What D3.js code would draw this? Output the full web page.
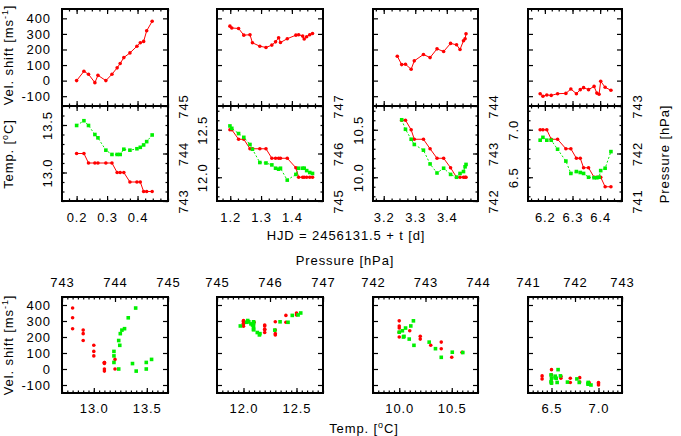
<!DOCTYPE html>
<html>
<head>
<meta charset="utf-8">
<script src="https://cdn.jsdelivr.net/npm/d3@7"></script>
<style>
  body { margin: 0; background: #fff; }
  svg { display: block; font-family: "Liberation Sans", Arial, sans-serif; font-size: 13px; }
  svg text { letter-spacing: 0.9px; }
</style>
</head>
<body>
<svg id="chart" width="681" height="436"></svg>
<script>
// --- data, one set of arrays per night (t = HJD - 2456131.5) ---
const t1 = [0.200, 0.224, 0.239, 0.260, 0.270, 0.296, 0.316, 0.333, 0.343, 0.355, 0.375, 0.398, 0.409, 0.420, 0.430, 0.448];
const vel1 = [0, 60, 41, -13, 34, 0, 41, 82, 110, 148, 178, 221, 243, 252, 320, 381];
const temp1 = [13.2, 13.2, 13.1, 13.1, 13.1, 13.1, 13.1, 13.0, 13.0, 13.0, 12.9, 12.9, 12.9, 12.8, 12.8, 12.8];
const pres1 = [744.59, 744.69, 744.59, 744.40, 744.33, 744.07, 743.98, 743.98, 743.98, 744.09, 744.07, 744.10, 744.13, 744.18, 744.25, 744.39];

const t2 = [1.199, 1.205, 1.227, 1.244, 1.264, 1.272, 1.296, 1.316, 1.335, 1.347, 1.357, 1.363, 1.385, 1.413, 1.422, 1.435, 1.440, 1.448, 1.458, 1.467];
const vel2 = [350, 338, 335, 292, 295, 243, 221, 213, 228, 249, 275, 245, 269, 292, 295, 286, 267, 282, 295, 303];
const temp2 = [12.5, 12.5, 12.4, 12.4, 12.3, 12.3, 12.3, 12.3, 12.2, 12.2, 12.2, 12.2, 12.2, 12.1, 12.0, 12.0, 12.0, 12.0, 12.0, 12.0];
const pres2 = [746.58, 746.53, 746.42, 746.34, 746.19, 746.09, 745.81, 745.80, 745.76, 745.69, 745.67, 745.69, 745.44, 745.56, 745.69, 745.69, 745.69, 745.64, 745.60, 745.58];

const t3 = [3.243, 3.257, 3.269, 3.287, 3.297, 3.326, 3.347, 3.369, 3.390, 3.412, 3.431, 3.442, 3.453, 3.458, 3.461];
const vel3 = [157, 103, 105, 73, 127, 168, 148, 204, 187, 239, 230, 200, 256, 269, 301];
const temp3 = [null, 10.6, 10.6, 10.5, 10.4, 10.4, 10.3, 10.2, 10.2, 10.1, 10.0, 10.0, 10.0, 10.0, 10.0];
const pres3 = [null, 743.71, 743.51, 743.30, 743.19, 743.07, 742.78, 742.59, 742.69, 742.56, 742.50, 742.58, 742.62, 742.72, 742.77];

const t4 = [6.183, 6.193, 6.207, 6.223, 6.246, 6.276, 6.294, 6.314, 6.328, 6.340, 6.358, 6.378, 6.388, 6.396, 6.402, 6.418, 6.439];
const vel4 = [-84, -100, -92, -95, -84, -82, -54, -84, -58, -45, -58, -37, -80, -88, -4, -43, -62];
const temp4 = [7.0, 7.0, 7.0, 6.9, 6.9, 6.8, 6.8, 6.7, 6.7, 6.6, 6.6, 6.5, 6.5, 6.5, 6.5, 6.4, 6.4];
const pres4 = [742.28, 742.34, 742.28, 742.28, 742.09, 741.84, 741.58, 741.62, 741.60, 741.58, 741.50, 741.49, 741.49, 741.50, 741.64, 741.69, 742.04];

// axis ranges and tick labels
const tDomains = [[0.152, 0.500], [1.157, 1.501], [3.166, 3.499], [6.139, 6.479]];
const tempDomains = [[12.7, 13.7], [11.75, 12.75], [9.75, 10.75], [6.25, 7.25]];
const presDomains = [[743, 745], [745, 747], [742, 744], [741, 743]];
const velDomainTop = [-163, 460];
const velDomainBottom = [-150, 450];

const tTicks = [[0.2, 0.3, 0.4], [1.2, 1.3, 1.4], [3.2, 3.3, 3.4], [6.2, 6.3, 6.4]];
const tempTicks = [[13.0, 13.5], [12.0, 12.5], [10.0, 10.5], [6.5, 7.0]];
const presTicks = [[743, 744, 745], [745, 746, 747], [742, 743, 744], [741, 742, 743]];
const velTicks = [-100, 0, 100, 200, 300, 400];

// --- layout ---
const FONT = '"Liberation Sans", Arial, sans-serif';
const RED = '#ff0000', GREEN = '#00f000';
const colX = [[62, 168], [217, 323], [373, 478], [528, 622]];
const rowTop = { top: 9, mid: 106, bottom: 201 };
const rowBot = { top: 297, bottom: 393 };

const cols = [
  { t: t1, vel: vel1, temp: temp1, pres: pres1 },
  { t: t2, vel: vel2, temp: temp2, pres: pres2 },
  { t: t3, vel: vel3, temp: temp3, pres: pres3 },
  { t: t4, vel: vel4, temp: temp4, pres: pres4 },
];

const svg = d3.select('#chart');

function steps(dom, step) {
  const a = Math.ceil(dom[0] / step - 1e-6), b = Math.floor(dom[1] / step + 1e-6);
  return d3.range(a, b + 1).map(k => +(k * step).toFixed(6));
}

function axisAt(x, y, axis, values, size, fmt, pad) {
  const g = svg.append('g').attr('transform', `translate(${x},${y})`);
  g.call(axis.tickValues(values).tickSizeInner(-size).tickSizeOuter(0)
    .tickPadding(pad || 0).tickFormat(fmt || (() => '')));
  g.attr('font-size', 13).attr('font-family', FONT);
  g.select('.domain').remove();
  g.selectAll('.tick line').attr('stroke', '#000').attr('stroke-width', 1.2);
  g.selectAll('.tick text').attr('fill', '#000');
  return g;
}

function rotateLabels(g, dx) {
  g.selectAll('.tick text')
    .attr('x', 0).attr('y', 0).attr('dy', '0.35em')
    .attr('text-anchor', 'middle')
    .attr('transform', `translate(${dx},0) rotate(-90)`);
}

const num = d => String(d);
const one = d => d.toFixed(1);
const MAJ = 5, MIN = 2.5;

cols.forEach((c, i) => {
  const [x0, x1] = colX[i];
  const x = d3.scaleLinear().domain(tDomains[i]).range([x0, x1]);
  const yV = d3.scaleLinear().domain(velDomainTop).range([rowTop.mid, rowTop.top]);
  const yT = d3.scaleLinear().domain(tempDomains[i]).range([rowTop.bottom, rowTop.mid]);
  const yP = d3.scaleLinear().domain(presDomains[i]).range([rowTop.bottom, rowTop.mid]);
  const bxT = d3.scaleLinear().domain(tempDomains[i]).range([x0, x1]);
  const bxP = d3.scaleLinear().domain(presDomains[i]).range([x0, x1]);
  const byV = d3.scaleLinear().domain(velDomainBottom).range([rowBot.bottom, rowBot.top]);

  const tMinor = steps(tDomains[i], 0.025);

  // ---- top row, upper panel (velocity) ----
  axisAt(x0, 0, d3.axisLeft(yV), velTicks, MAJ, i === 0 ? num : null, 11);
  axisAt(x1, 0, d3.axisRight(yV), velTicks, MAJ);
  [[rowTop.top, d3.axisTop], [rowTop.mid, d3.axisBottom], [rowTop.mid, d3.axisTop]].forEach(([yy, ax]) => {
    axisAt(0, yy, ax(x), tMinor, MIN);
    axisAt(0, yy, ax(x), tTicks[i], MAJ);
  });

  // ---- top row, lower panel (temperature / pressure) ----
  axisAt(0, rowTop.bottom, d3.axisBottom(x), tMinor, MIN);
  axisAt(0, rowTop.bottom, d3.axisBottom(x), tTicks[i], MAJ, one, 12);
  axisAt(x0, 0, d3.axisLeft(yT), steps(tempDomains[i], 0.1), MIN);
  rotateLabels(axisAt(x0, 0, d3.axisLeft(yT), tempTicks[i], MAJ, one), -15);
  axisAt(x1, 0, d3.axisRight(yP), steps(presDomains[i], 0.2), MIN);
  rotateLabels(axisAt(x1, 0, d3.axisRight(yP), presTicks[i], MAJ, num), 15);

  // ---- bottom row (velocity vs temperature / pressure) ----
  axisAt(x0, 0, d3.axisLeft(byV), velTicks, MAJ, i === 0 ? num : null, 11);
  axisAt(x1, 0, d3.axisRight(byV), velTicks, MAJ);
  axisAt(0, rowBot.bottom, d3.axisBottom(bxT), steps(tempDomains[i], 0.05), MIN);
  axisAt(0, rowBot.bottom, d3.axisBottom(bxT), tempTicks[i], MAJ, one, 11);
  axisAt(0, rowBot.top, d3.axisTop(bxP), steps(presDomains[i], 0.1), MIN);
  axisAt(0, rowBot.top, d3.axisTop(bxP), presTicks[i], MAJ, num, 10);

  // borders
  svg.append('rect').attr('x', x0).attr('y', rowTop.top).attr('width', x1 - x0).attr('height', rowTop.bottom - rowTop.top)
    .attr('fill', 'none').attr('stroke', '#000').attr('stroke-width', 2);
  svg.append('line').attr('x1', x0).attr('x2', x1).attr('y1', rowTop.mid).attr('y2', rowTop.mid)
    .attr('stroke', '#000').attr('stroke-width', 2);
  svg.append('rect').attr('x', x0).attr('y', rowBot.top).attr('width', x1 - x0).attr('height', rowBot.bottom - rowBot.top)
    .attr('fill', 'none').attr('stroke', '#000').attr('stroke-width', 2);

  const rows = c.t.map((t, k) => ({ t, vel: c.vel[k], temp: c.temp[k], pres: c.pres[k] }));
  const withLower = rows.filter(d => d.temp != null);

  // velocity curve
  svg.append('path').datum(rows)
    .attr('d', d3.line().x(d => x(d.t)).y(d => yV(d.vel)))
    .attr('fill', 'none').attr('stroke', RED).attr('stroke-width', 1);
  svg.append('g').selectAll('circle').data(rows).join('circle')
    .attr('cx', d => x(d.t)).attr('cy', d => yV(d.vel)).attr('r', 1.8).attr('fill', RED);

  // temperature curve
  svg.append('path').datum(withLower)
    .attr('d', d3.line().x(d => x(d.t)).y(d => yT(d.temp)))
    .attr('fill', 'none').attr('stroke', RED).attr('stroke-width', 1);
  svg.append('g').selectAll('circle').data(withLower).join('circle')
    .attr('cx', d => x(d.t)).attr('cy', d => yT(d.temp)).attr('r', 1.8).attr('fill', RED);

  // pressure curve
  svg.append('path').datum(withLower)
    .attr('d', d3.line().x(d => x(d.t)).y(d => yP(d.pres)))
    .attr('fill', 'none').attr('stroke', GREEN).attr('stroke-width', 1).attr('stroke-dasharray', '2,2');
  svg.append('g').selectAll('rect').data(withLower).join('rect')
    .attr('x', d => x(d.t) - 1.8).attr('y', d => yP(d.pres) - 1.8)
    .attr('width', 3.6).attr('height', 3.6).attr('fill', GREEN);

  // bottom scatter
  svg.append('g').selectAll('circle').data(withLower).join('circle')
    .attr('cx', d => bxT(d.temp)).attr('cy', d => byV(d.vel)).attr('r', 1.8).attr('fill', RED);
  svg.append('g').selectAll('rect').data(withLower).join('rect')
    .attr('x', d => bxP(d.pres) - 1.8).attr('y', d => byV(d.vel) - 1.8)
    .attr('width', 3.6).attr('height', 3.6).attr('fill', GREEN);
});

// ---- titles ----
function velTitle(cy) {
  const t = svg.append('text').attr('transform', `translate(12.5,${cy}) rotate(-90)`).attr('text-anchor', 'middle');
  t.append('tspan').text('Vel. shift [ms');
  t.append('tspan').attr('baseline-shift', 'super').attr('font-size', 9).text('-1');
  t.append('tspan').text(']');
}
function tempTitle(g) {
  g.append('tspan').text('Temp. [');
  g.append('tspan').attr('baseline-shift', 'super').attr('font-size', 9).text('o');
  g.append('tspan').text('C]');
}
velTitle(55);
velTitle(345);
tempTitle(svg.append('text').attr('transform', 'translate(12.5,154) rotate(-90)').attr('text-anchor', 'middle'));
svg.append('text').attr('transform', 'translate(669,154) rotate(-90)').attr('text-anchor', 'middle').text('Pressure [hPa]');
svg.append('text').attr('x', 346).attr('y', 240).attr('text-anchor', 'middle').text('HJD = 2456131.5 + t [d]');
svg.append('text').attr('x', 345).attr('y', 264.5).attr('text-anchor', 'middle').text('Pressure [hPa]');
tempTitle(svg.append('text').attr('x', 364).attr('y', 432.5).attr('text-anchor', 'middle'));
</script>
</body>
</html>
